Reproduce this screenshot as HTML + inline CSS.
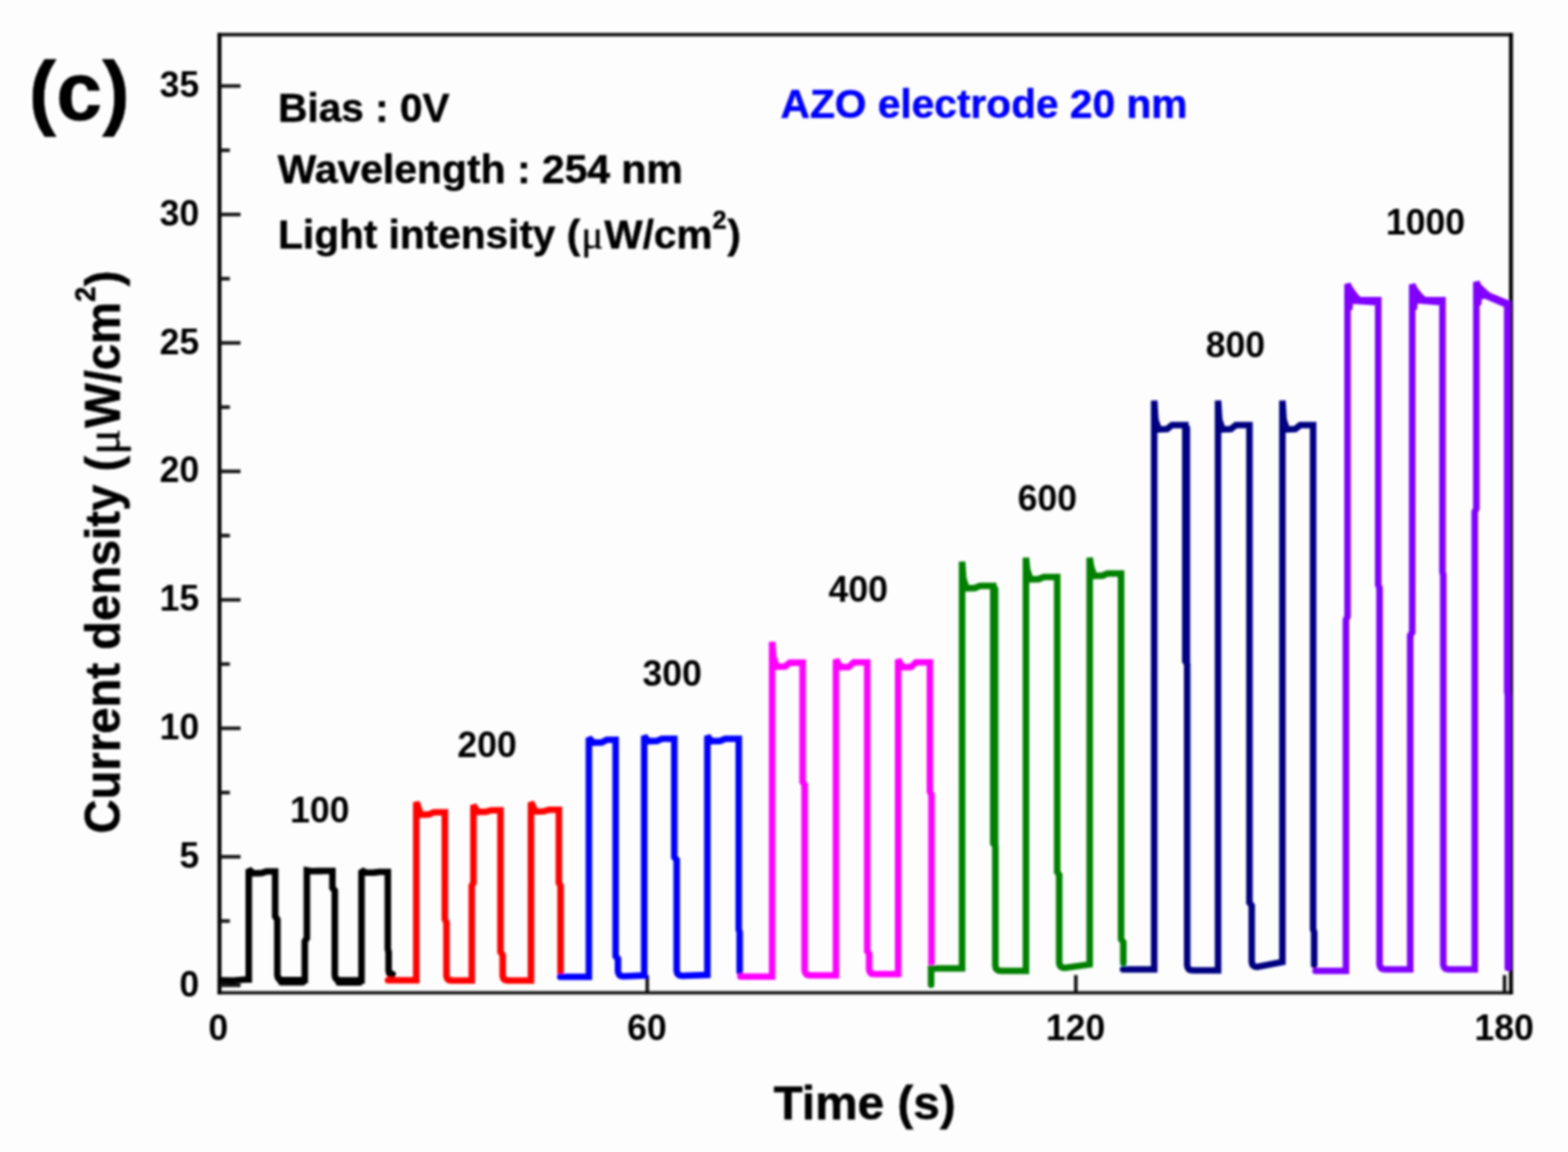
<!DOCTYPE html>
<html lang="en">
<head>
<meta charset="utf-8">
<title>Current density vs time - AZO electrode 20 nm</title>
<style>
html, body { margin: 0; padding: 0; background: #fdfdfd; }
body { width: 1584px; height: 1164px; overflow: hidden; }
svg { display: block; }
</style>
</head>
<body>
<svg width="1584" height="1164" viewBox="0 0 1584 1164" role="img" aria-label="Current density versus time for AZO electrode 20 nm">
<defs><filter id="soft" x="0" y="0" width="1584" height="1164" filterUnits="userSpaceOnUse"><feGaussianBlur stdDeviation="0.85"/></filter></defs>
<rect x="0" y="0" width="1584" height="1164" fill="#fdfdfd"/>
<g filter="url(#soft)">
<g stroke="#0c0c0c" stroke-width="3.5" fill="none" stroke-linecap="butt">
<path d="M219.9,35.0 H1528.2 M219.9,1003.2 H1528.2" stroke="#161616" stroke-width="3.3"/>
<path d="M221.7,33.6 V1004.6 M1526.4,33.6 V1004.6" stroke="#000" stroke-width="4.0"/>
<line x1="221.7" y1="995.5" x2="243.0" y2="995.5"/>
<line x1="221.7" y1="865.7" x2="243.0" y2="865.7"/>
<line x1="221.7" y1="735.9" x2="243.0" y2="735.9"/>
<line x1="221.7" y1="606.1" x2="243.0" y2="606.1"/>
<line x1="221.7" y1="476.3" x2="243.0" y2="476.3"/>
<line x1="221.7" y1="346.5" x2="243.0" y2="346.5"/>
<line x1="221.7" y1="216.7" x2="243.0" y2="216.7"/>
<line x1="221.7" y1="86.9" x2="243.0" y2="86.9"/>
<line x1="221.7" y1="930.6" x2="232.2" y2="930.6"/>
<line x1="221.7" y1="800.8" x2="232.2" y2="800.8"/>
<line x1="221.7" y1="671.0" x2="232.2" y2="671.0"/>
<line x1="221.7" y1="541.2" x2="232.2" y2="541.2"/>
<line x1="221.7" y1="411.4" x2="232.2" y2="411.4"/>
<line x1="221.7" y1="281.6" x2="232.2" y2="281.6"/>
<line x1="221.7" y1="151.8" x2="232.2" y2="151.8"/>
<line x1="653.8" y1="1003.2" x2="653.8" y2="985.2"/>
<line x1="1086.8" y1="1003.2" x2="1086.8" y2="985.2"/>
<line x1="1519.9" y1="1003.2" x2="1519.9" y2="985.2"/>
</g>
<g fill="none" stroke-width="6.6" stroke-linejoin="miter" stroke-miterlimit="1.6" stroke-linecap="round">
<path stroke="#000000" d="M224.0,990.5 L236.0,990.8 L247.0,989.8 L251.3,989.8 L251.3,878.5 L255.8,882.3 L264.3,882.1 L269.3,880.5 L278.0,880.5 L278.0,926.0 L280.2,929.0 L280.2,985.3 Q280.7,990.3 285.7,990.3 L307.9,990.3 L307.9,951.0 L310.0,948.0 L310.0,879.5 L314.5,880.3 L323.0,880.1 L328.0,880.0 L335.8,880.0 L335.8,897.0 L338.2,900.0 L338.2,985.6 Q338.7,990.6 343.7,990.6 L365.2,990.6 L365.2,879.5 L369.7,881.8 L378.2,881.6 L383.2,881.0 L391.8,881.0 L391.8,959.0 L392.6,962.0 L392.6,981.0 Q393.1,986.0 398.1,986.0 L396.0,984.0 M284.2,992.5 L305.9,992.5 M342.2,992.8 L363.2,992.8"/>
<path stroke="#ff0000" d="M392.0,990.5 L420.5,990.5 L420.5,810.5 L421.7,813.3 L425.0,823.1 L433.5,822.9 L438.5,820.8 L449.4,820.8 L449.4,929.0 L451.0,932.0 L451.0,985.8 Q451.5,990.8 456.5,990.8 L476.6,990.8 L476.6,895.0 L478.3,892.0 L478.3,813.5 L479.5,815.5 L482.8,820.4 L491.3,820.2 L496.3,818.7 L505.6,818.7 L505.6,962.0 L507.8,965.0 L507.8,985.8 Q508.3,990.8 513.3,990.8 L536.4,990.8 L536.4,810.8 L537.6,812.8 L540.9,820.0 L549.4,819.8 L554.4,818.2 L564.6,818.2 L564.6,892.0 L566.3,895.0 L566.3,983.0"/>
<path stroke="#0000ff" d="M566.0,987.0 L594.9,987.0 L594.9,745.5 L599.4,750.3 L607.9,750.1 L612.9,747.5 L621.9,747.5 L621.9,966.0 L624.3,969.0 L624.3,981.5 Q624.8,986.5 629.8,986.5 L650.8,985.5 L650.8,743.5 L652.0,745.5 L655.3,748.8 L663.8,748.6 L668.8,746.5 L681.2,746.5 L681.2,866.0 L683.6,869.0 L683.6,981.0 Q684.1,986.0 689.1,986.0 L714.6,985.0 L714.6,743.5 L715.8,745.5 L719.1,748.8 L727.6,748.6 L732.6,746.5 L746.3,746.5 L746.3,939.0 L747.2,942.0 L747.2,982.0"/>
<path stroke="#ff00ff" d="M748.0,986.8 L780.0,986.8 L780.0,648.5 L781.2,663.8 L784.5,673.6 L793.0,673.4 L798.0,669.6 L810.8,669.6 L810.8,790.0 L812.8,793.0 L812.8,980.5 Q813.3,985.5 818.3,985.5 L844.5,985.5 L844.5,666.5 L845.7,668.5 L849.0,674.1 L857.5,673.9 L862.5,669.2 L876.1,669.2 L876.1,961.0 L878.0,964.0 L878.0,979.3 Q878.5,984.3 883.5,984.3 L907.3,984.3 L907.3,666.5 L908.5,668.5 L911.8,674.1 L920.3,673.9 L925.3,669.2 L939.4,669.2 L939.4,800.0 L941.0,803.0 L941.0,977.0"/>
<path stroke="#008000" d="M940.6,995.0 L940.6,978.5 L971.9,978.5 L971.9,567.5 L973.1,584.5 L976.4,594.3 L984.9,594.1 L989.9,592.0 L1003.4,592.0 L1003.4,852.0 L1005.5,855.0 L1005.5,976.0 Q1006.0,981.0 1011.0,981.0 L1036.4,981.0 L1036.4,563.5 L1037.6,575.5 L1040.9,585.3 L1049.4,585.1 L1054.4,583.0 L1068.0,583.0 L1068.0,881.0 L1070.0,884.0 L1070.0,973.0 Q1070.5,978.0 1075.5,978.0 L1100.8,974.5 L1100.8,563.5 L1102.0,572.0 L1105.3,581.8 L1113.8,581.6 L1118.8,579.5 L1132.5,579.5 L1132.5,949.0 L1134.8,952.0 L1134.8,973.0 M1005.2,595.0 L1005.2,853.0"/>
<path stroke="#000080" d="M1134.5,979.5 L1166.0,979.5 L1166.0,404.7 L1167.2,424.0 L1170.5,433.8 L1179.0,433.6 L1184.0,429.5 L1197.4,429.5 L1197.4,668.0 L1199.3,671.0 L1199.3,975.5 Q1199.8,980.5 1204.8,980.5 L1230.5,980.5 L1230.5,404.7 L1231.7,424.0 L1235.0,433.8 L1243.5,433.6 L1248.5,429.5 L1262.2,429.5 L1262.2,912.0 L1264.5,915.0 L1264.5,972.0 Q1265.0,977.0 1270.0,977.0 L1295.5,972.0 L1295.5,404.7 L1296.7,424.0 L1300.0,433.8 L1308.5,433.6 L1313.5,429.5 L1326.5,429.5 L1326.5,939.0 L1327.6,942.0 L1327.6,975.0 M1199.0,432.5 L1199.0,669.0"/>
<path stroke="#8000ff" d="M1329.0,981.0 L1359.7,981.0 L1359.7,626.0 L1361.3,623.0 L1361.3,287.0 L1363.8,292.0 L1369.8,300.3 L1373.3,303.3 L1392.3,303.2 L1392.3,591.0 L1393.6,594.0 L1393.6,974.5 Q1394.1,979.5 1399.1,979.5 L1424.6,979.5 L1424.6,642.0 L1426.6,639.0 L1426.6,287.5 L1429.1,292.5 L1435.1,300.0 L1438.6,303.0 L1457.2,303.2 L1457.2,578.0 L1458.0,581.0 L1458.0,974.5 Q1458.5,979.5 1463.5,979.5 L1489.8,979.5 L1489.8,517.0 L1491.4,514.0 L1491.4,285.0 L1493.9,290.0 L1499.9,295.5 L1503.4,298.5 L1522.6,306.5 L1522.6,699.0 L1523.2,702.0 L1523.2,978.0 M1363.3,296.0 L1363.3,310.8 M1364.8,296.0 L1367.8,303.8 M1370.3,304.0 L1392.3,305.4 M1428.6,296.5 L1428.6,310.5 M1430.1,296.5 L1433.1,303.5 M1435.6,303.7 L1457.2,305.4 M1493.4,294.0 L1493.4,306.0 M1494.9,294.0 L1497.9,299.0 M1500.4,298.5 L1522.6,308.0"/>
</g>
<g font-family="'Liberation Sans', sans-serif" font-weight="bold" fill="#000" stroke="#000" stroke-width="0" stroke-linejoin="round">
<text x="201.3" y="1006.5" font-size="36" text-anchor="end">0</text>
<text x="201.3" y="876.7" font-size="36" text-anchor="end">5</text>
<text x="201.3" y="746.9" font-size="36" text-anchor="end">10</text>
<text x="201.3" y="617.1" font-size="36" text-anchor="end">15</text>
<text x="201.3" y="487.3" font-size="36" text-anchor="end">20</text>
<text x="201.3" y="357.5" font-size="36" text-anchor="end">25</text>
<text x="201.3" y="227.7" font-size="36" text-anchor="end">30</text>
<text x="201.3" y="97.9" font-size="36" text-anchor="end">35</text>
<text x="220.5" y="1051.4" font-size="36" text-anchor="middle">0</text>
<text x="653.5" y="1051.4" font-size="36" text-anchor="middle">60</text>
<text x="1086.5" y="1051.4" font-size="36" text-anchor="middle">120</text>
<text x="1519.6" y="1051.4" font-size="36" text-anchor="middle">180</text>
<text x="323" y="831" font-size="36" text-anchor="middle">100</text>
<text x="492" y="765" font-size="36" text-anchor="middle">200</text>
<text x="679" y="693" font-size="36" text-anchor="middle">300</text>
<text x="867" y="608" font-size="36" text-anchor="middle">400</text>
<text x="1058" y="515.5" font-size="36" text-anchor="middle">600</text>
<text x="1248" y="361" font-size="36" text-anchor="middle">800</text>
<text x="1440" y="237" font-size="36" text-anchor="middle">1000</text>
<text x="29" y="120.5" stroke-width="0.5" font-size="83.5">(c)</text>
<text x="281" y="122.5" stroke-width="0.5" font-size="41">Bias : 0V</text>
<text x="280.5" y="184.7" stroke-width="0.5" font-size="41.3">Wavelength : 254 nm</text>
<text x="281" y="251.2" stroke-width="0.5" font-size="41">Light intensity (<tspan font-family="'Liberation Serif', serif" font-weight="normal" font-size="41.5" dx="1.0">μ</tspan><tspan dx="1.0">W/cm</tspan><tspan dy="-20.5" font-size="25.5">2</tspan><tspan dy="20.5" dx="0.8">)</tspan></text>
<text x="788.5" y="119" stroke-width="0.5" font-size="41.1" fill="#0000ff" stroke="#0000ff">AZO electrode 20 nm</text>
<text x="873.5" y="1131" stroke-width="0.5" font-size="48.2" text-anchor="middle">Time (s)</text>
<text transform="translate(120.8,557.8) rotate(-90) scale(1,1.05)" stroke-width="0.5" font-size="47.7" text-anchor="middle">Current density (<tspan font-family="'Liberation Serif', serif" font-weight="normal" font-size="48.5" dx="1.2">μ</tspan><tspan dx="1.2">W/cm</tspan><tspan dy="-23.5" font-size="27.5">2</tspan><tspan dy="23.5" dx="0.5">)</tspan></text>
</g>
</g>
</svg>
</body>
</html>
